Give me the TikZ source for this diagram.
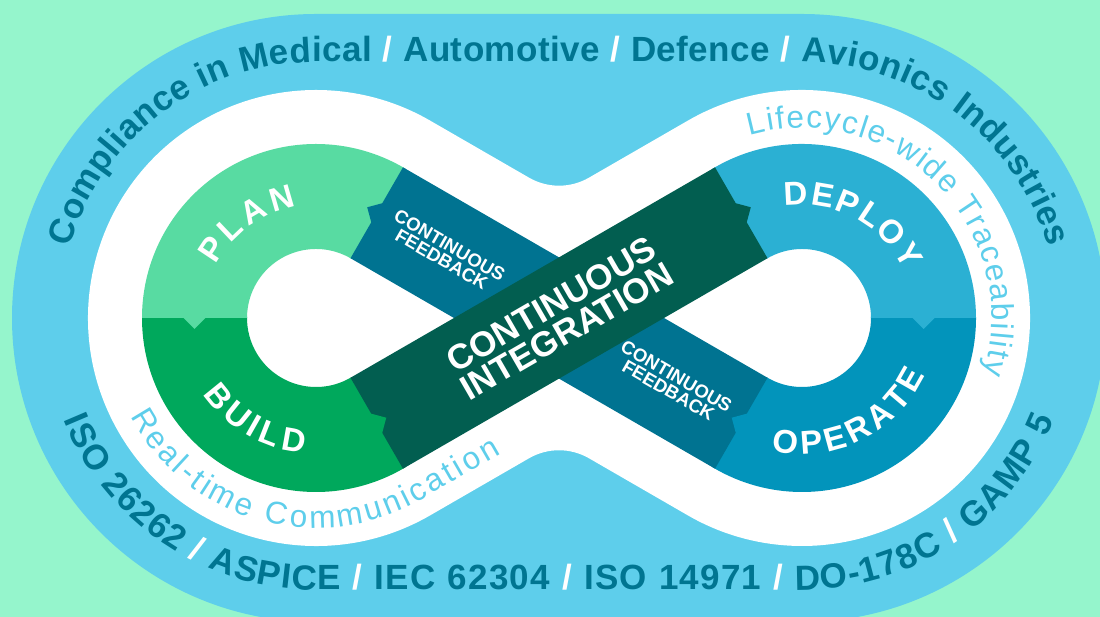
\documentclass[tikz,border=0pt]{standalone}
\usepackage{fontspec}
\setmainfont{Liberation Sans}
\usetikzlibrary{calc,decorations.text}
\definecolor{mint}{HTML}{95F5CC}
\definecolor{bandblue}{HTML}{5ECEEB}
\definecolor{darktext}{HTML}{007591}
\definecolor{plan}{HTML}{58DBA2}
\definecolor{build}{HTML}{00A85C}
\definecolor{ci}{HTML}{025E50}
\definecolor{feedback}{HTML}{007391}
\definecolor{deploy}{HTML}{2BB0D3}
\definecolor{operate}{HTML}{0294BB}
\newcommand{\ringseg}[4]{\fill[#4] ($(#1)+(#2:174)$) arc[start angle=#2, end angle=#3, radius=174] -- ($(#1)+(#3:69)$) arc[start angle=#3, end angle=#2, radius=69] -- cycle;}
\newcommand{\flownotch}[4]{\fill[#4] ($(#1)+(#2:109.5)+(#3+180:1)$) -- ($(#1)+(#2:121.5)+(#3:11)$) -- ($(#1)+(#2:133.5)+(#3+180:1)$) -- cycle;}
\newcommand{\otD}{\fontsize{35}{35}\selectfont\bfseries\color{darktext}}
\newcommand{\otW}{\fontsize{35}{35}\selectfont\bfseries\color{white}}
\newcommand{\inT}{\fontsize{31.5}{31.5}\selectfont\color{bandblue}}
\newcommand{\rgT}{\fontsize{33}{33}\selectfont\bfseries\color{white}}
\begin{document}
\begin{tikzpicture}[x=1pt,y=1pt,
  bandlabel/.style={text=white,align=center,inner sep=0pt}]
\useasboundingbox (0,0) rectangle (1100,617);
\clip (0,0) rectangle (1100,617);
\fill[mint] (0,0) rectangle (1100,617);
\coordinate (L) at (316,299);
\coordinate (R) at (802,299);
\coordinate (C) at (559,299);
% outer blue stadium
\fill[bandblue] (316,603) -- (802,603) arc[start angle=90,end angle=-90,radius=304] -- (316,-5) arc[start angle=270,end angle=90,radius=304] -- cycle;
% white peanut
\fill[white] (430,496.45) -- (529,439.34) arc[start angle=240,end angle=300,radius=60] -- (688,496.45) arc[start angle=120,end angle=-120,radius=228] -- (589,158.71) arc[start angle=60,end angle=120,radius=60] -- (430,101.55) arc[start angle=-60,end angle=-300,radius=228] -- cycle;
% rings
\ringseg{L}{179}{301}{build}
\ringseg{L}{180}{59}{plan}
\ringseg{R}{1}{-121}{operate}
\ringseg{R}{121}{0}{deploy}
% bands
\fill[feedback] ($(L)+(60:174)$) -- ($(R)+(240:69)$) -- ($(R)+(240:174)$) -- ($(L)+(60:69)$) -- cycle;
\fill[ci] ($(L)+(-60:174)$) -- ($(R)+(120:69)$) -- ($(R)+(120:174)$) -- ($(L)+(-60:69)$) -- cycle;
% flow notches
\flownotch{L}{180}{270}{plan}
\flownotch{L}{300}{30}{build}
\flownotch{R}{120}{30}{ci}
\flownotch{R}{0}{270}{deploy}
\flownotch{R}{240}{150}{operate}
\flownotch{L}{60}{150}{feedback}
% outer texts
\path[decorate,decoration={text along path,text align=fit to path,
  text={|\otD|Compliance in Medical |\otW|/|\otD| Automotive |\otW|/|\otD| Defence |\otW|/|\otD| Avionics Industries}}]
  ($(L)+(164:256)$) arc[start angle=164,end angle=90,radius=256] -- ($(R)+(90:256)$) arc[start angle=90,end angle=16,radius=256];
\path[decorate,decoration={text along path,text align=fit to path,
  text={|\otD|ISO 26262 |\otW|/|\otD| ASPICE |\otW|/|\otD| IEC 62304 |\otW|/|\otD| ISO 14971 |\otW|/|\otD| DO-178C |\otW|/|\otD| GAMP 5}}]
  ($(L)+(202:272)$) arc[start angle=202,end angle=270,radius=272] -- ($(R)+(270:272)$) arc[start angle=270,end angle=338,radius=272];
% inner texts
\path[decorate,decoration={text along path,text align=fit to path,
  text={|\inT|Lifecycle-wide Traceability}}]
  ($(R)+(106:190)$) arc[start angle=106,end angle=-17,radius=190];
\path[decorate,decoration={text along path,text align=fit to path,
  text={|\inT|Real-time Communication}}]
  ($(L)+(208:210)$) arc[start angle=208,end angle=300,radius=210] -- ++(30:93);
% ring labels
\path[decorate,decoration={text along path,text align=fit to path,text={|\rgT|PLAN}}]
  ($(L)+(152:113)$) arc[start angle=152,end angle=100,radius=113];
\path[decorate,decoration={text along path,text align=fit to path,text={|\rgT|BUILD}}]
  ($(L)+(214:136)$) arc[start angle=214,end angle=265,radius=136];
\path[decorate,decoration={text along path,text align=fit to path,text={|\rgT|DEPLOY}}]
  ($(R)+(99:113)$) arc[start angle=99,end angle=25,radius=113];
\path[decorate,decoration={text along path,text align=fit to path,text={|\rgT|OPERATE}}]
  ($(R)+(257:136)$) arc[start angle=257,end angle=335,radius=136];
% band labels
\node[bandlabel,rotate=-30,font=\fontsize{18.5}{16}\selectfont\bfseries] (fb1) at ($(C)+(150:131)$) {CONTINUOUS\\FEEDBACK};
\node[bandlabel,rotate=-30,font=\fontsize{18.5}{16}\selectfont\bfseries] (fb2) at ($(C)+(-30:131)$) {CONTINUOUS\\FEEDBACK};
\node[bandlabel,rotate=30,font=\fontsize{35}{31}\selectfont\bfseries] (ci) at (C) {CONTINUOUS\\INTEGRATION};
\end{tikzpicture}
\end{document}
